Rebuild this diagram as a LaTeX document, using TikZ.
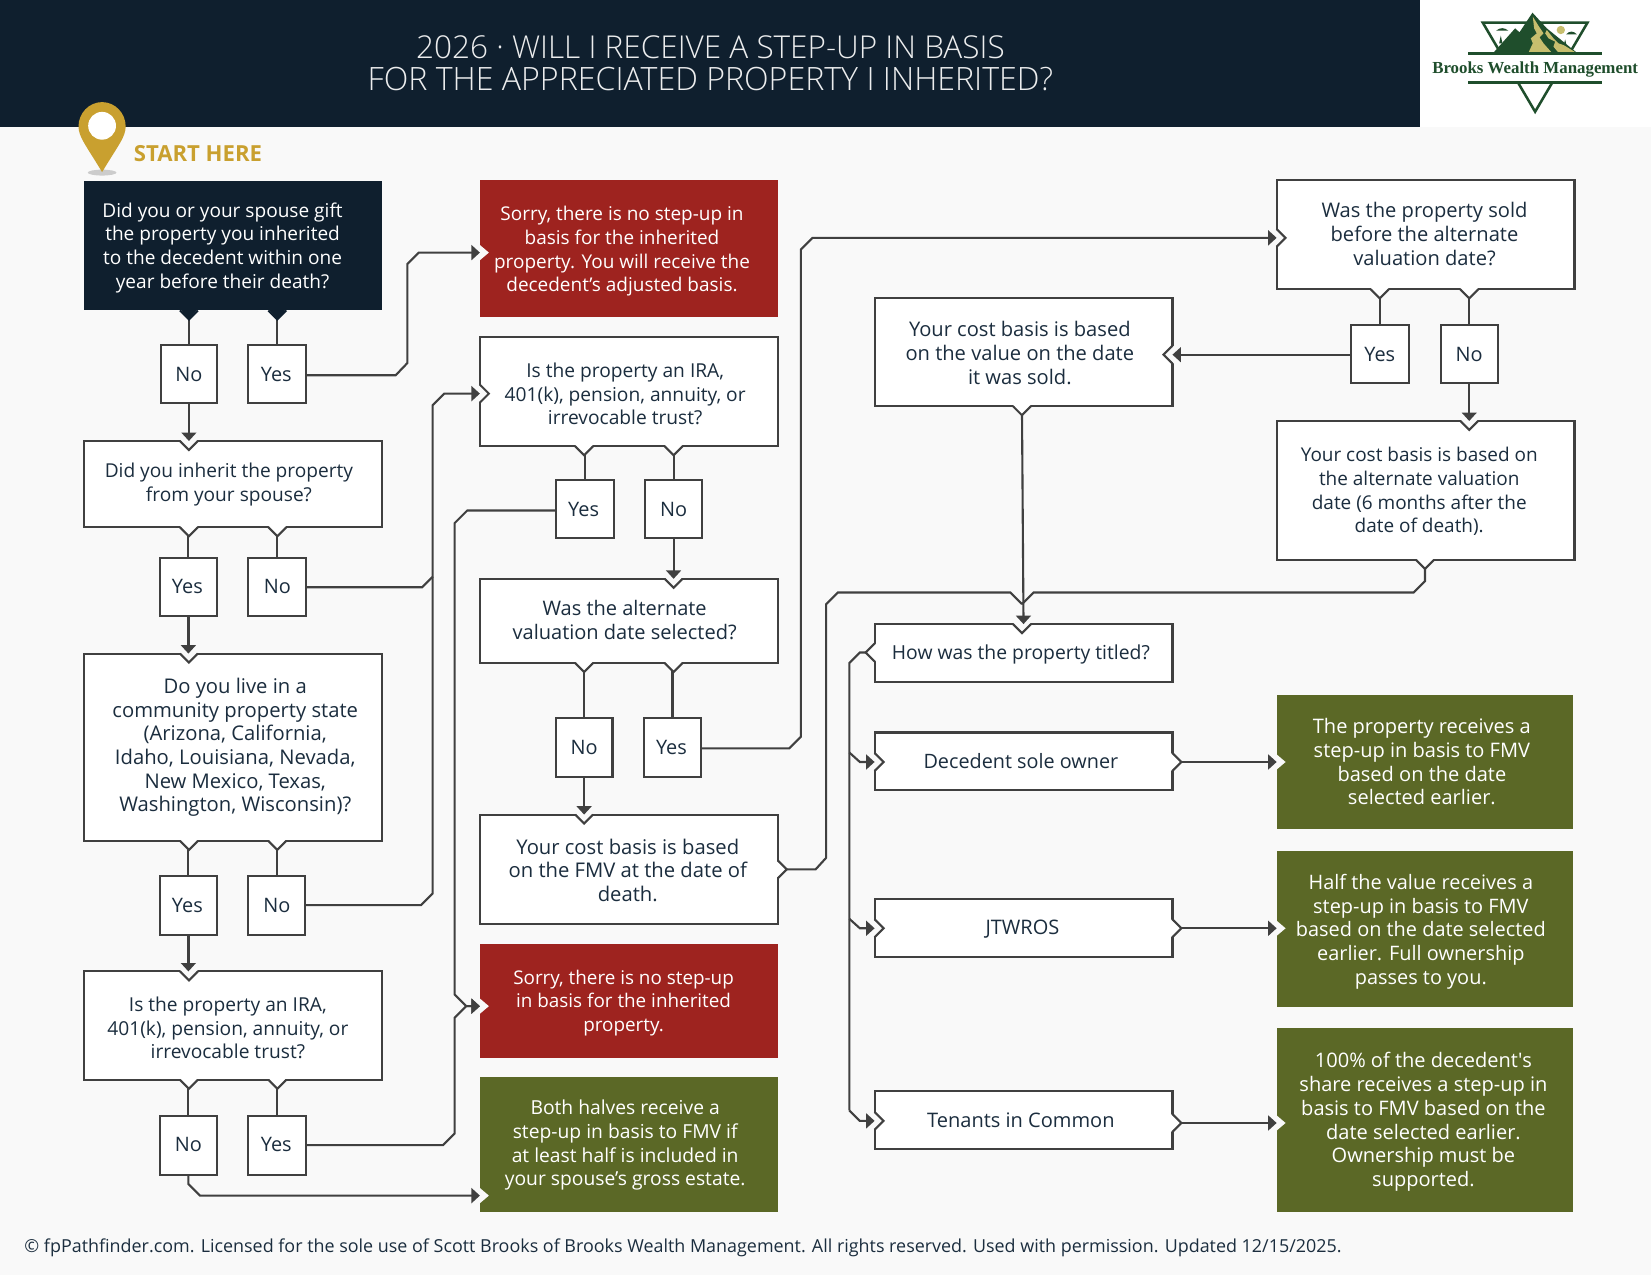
\documentclass[tikz,border=0pt]{standalone}
\usepackage{fontspec}
\setmainfont{Open Sans}
\newfontfamily\titlefont{Open Sans Light}
\newfontfamily\logofont{Liberation Serif}
\usetikzlibrary{arrows.meta,calc}
\definecolor{navy}{HTML}{0F1F2E}
\definecolor{bgc}{HTML}{F9F9F9}
\definecolor{linec}{HTML}{404040}
\definecolor{redc}{HTML}{9E231F}
\definecolor{greenc}{HTML}{5B6826}
\definecolor{gold}{HTML}{C9A02F}
\definecolor{txt}{HTML}{1B2D3E}
\definecolor{logog}{HTML}{1F4E2C}
\definecolor{logoy}{HTML}{C7BE6E}
\tikzset{
 fs/.style={font=\fontsize{#1}{22.5}\selectfont},
 boxbase/.style={rectangle,inner sep=0pt,outer sep=0pt,fs=18.9},
 whitebox/.style={boxbase,draw=linec,line width=2pt,fill=white,text=txt},
 darkbox/.style={boxbase,fill=navy,text=white},
 redbox/.style={boxbase,fill=redc,text=white},
 greenbox/.style={boxbase,fill=greenc,text=white},
 conn/.style={draw=linec,line width=2pt,line join=miter},
 arr/.style={conn,-{Triangle[length=8pt,width=14pt]}},
}
% style, name, x1,y1,x2,y2, dx, dy, text
\newcommand\bx[9][whitebox]{%
 \node[#1,minimum width={(#5-#3)*0.9988pt},minimum height={(#6-#4)*0.9988pt}] (#2) at ({(#3+#5)/2},{(#4+#6)/2})
 {\makebox[0pt][c]{\hspace*{#7pt}\hspace*{#7pt}\raisebox{0pt}[\dimexpr\height+#8pt+#8pt\relax]{\begin{tabular}{@{}c@{}}#9\end{tabular}}}};}
% x,y, dirx,diry, fill, stroke
\newcommand\notch[6]{%
 \fill[#5] ({#1+8.5*#4-1.5*#3},{#2+8.5*#3-1.5*#4}) -- ({#1+8.5*#3},{#2+8.5*#4}) -- ({#1-8.5*#4-1.5*#3},{#2-8.5*#3-1.5*#4}) -- cycle;
 \path[draw=#6,line width=2pt,line join=miter] ({#1+8.5*#4},{#2+8.5*#3}) -- ({#1+8.5*#3},{#2+8.5*#4}) -- ({#1-8.5*#4},{#2-8.5*#3});}
\begin{document}
\begin{tikzpicture}[x=0.9988pt,y=-0.9988pt]
\useasboundingbox (0,0) rectangle (1568.7,1211.45);
\fill[bgc] (0,0) rectangle (1568.7,1211.45);
\fill[navy] (0,0) rectangle (1349,120.5);
\fill[white] (1349,0) rectangle (1568.7,120.5);
\node[text=white!92!navy,align=center,font=\fontsize{30.5}{30.5}\selectfont\titlefont,inner sep=0pt] (title) at (675,60) {{\fontsize{29.9}{30.5}\selectfont 2026 · WILL I RECEIVE A STEP-UP IN BASIS}\\FOR THE APPRECIATED PROPERTY I INHERITED?};
% logo
\begin{scope}[shift={(1311.3,0)},x=0.3164pt,y=-0.3164pt]
 \draw[logog,line width=2.4pt,line join=miter] (359,155) -- (308,68) -- (622,68) -- (571,155);
 \fill[logoy] (542,90) circle (12.5);
 \fill[logog] (348,92) .. controls (360,82) and (372,82) .. (385,92) -- cycle;
 \fill[logog] (558,103) .. controls (568,92) and (580,92) .. (590,103) -- cycle;
 \fill[logog] (362,107) -- (367,130) -- (357,130) -- cycle;
 \fill[logog] (555,118) -- (560,140) -- (550,140) -- cycle;
 \fill[logog] (340,158) -- (405,85) -- (418,97) -- (457,38) -- (500,85) -- (590,158) -- cycle;
 \fill[logoy] (458,50) -- (478,82) -- (490,100) -- (478,112) -- (490,130) -- (515,158) -- (445,158) -- (458,130) -- (452,115) -- (470,100) -- (462,85) -- cycle;
 \fill[logoy] (500,90) -- (520,115) -- (535,130) -- (550,135) -- (588,158) -- (535,158) -- (520,140) -- (525,125) -- (505,115) -- (495,100) -- cycle;
 \draw[logog,line width=2.6pt] (265,160) -- (665,160);
 \draw[logog,line width=2.6pt] (265,247) -- (665,247);
 \draw[logog,line width=2.4pt,line join=miter] (415,250) -- (465,335) -- (515,250);
 \node[text=logog,inner sep=0pt,font=\fontsize{16}{17}\selectfont\logofont\bfseries] (logotext) at (465,209) {Brooks Wealth Management};
\end{scope}
% pin
\fill[black!20] (97,164) ellipse (13.6 and 2.8);
\fill[gold] (74.6,120) .. controls (74.6,107.6) and (84.6,97) .. (97,97) .. controls (109.4,97) and (119.4,107.6) .. (119.4,120) .. controls (119.4,130) and (113,137) .. (97,163.5) .. controls (81,137) and (74.6,130) .. (74.6,120) -- cycle;
\fill[white] (97,119.5) circle (13.2);
\node[text=gold,anchor=west,inner sep=0pt,font=\fontsize{21}{24}\selectfont\bfseries] (start) at (127,146) {START HERE};

% nodes
\bx[darkbox,fs=18.1]{qa}{80}{172}{363}{295}{-10}{2}{Did you or your spouse gift\\the property you inherited\\to the decedent within one\\year before their death?}
\bx{qaN}{153}{328}{206}{383}{0}{2}{No}
\bx{qaY}{236}{328}{291}{383}{-1}{2}{Yes}
\bx[whitebox,fs=18.15]{qb}{80}{419}{363}{501}{-4}{0.6}{Did you inherit the property\\from your spouse?}
\bx{qbY}{152}{530}{206}{585}{-1}{2}{Yes}
\bx{qbN}{236}{530}{291}{585}{0}{2}{No}
\bx[whitebox,fs=19.2]{qc}{80}{621}{363}{799}{2}{0.6}{Do you live in a\\community property state\\(Arizona, California,\\Idaho, Louisiana, Nevada,\\New Mexico, Texas,\\Washington, Wisconsin)?}
\bx{qcY}{152}{832}{206}{888}{-1}{2.5}{Yes}
\bx{qcN}{236}{832}{290}{888}{0}{2.5}{No}
\bx[whitebox,fs=18.2]{qd}{80}{923}{363}{1026}{-5}{4.6}{Is the property an IRA,\\401(k), pension, annuity, or\\irrevocable trust?}
\bx{qdN}{152}{1060}{206}{1116}{0}{2}{No}
\bx{qdY}{236}{1060}{291}{1116}{-1}{2}{Yes}
\bx[redbox,fs=18.0]{ra}{456}{171}{739}{301}{-6.5}{3}{Sorry, there is no step-up in\\basis for the inherited\\property. You will receive the\\decedent’s adjusted basis.}
\bx[whitebox,fs=18.2]{qe}{456}{320}{739}{424}{-3.5}{4.6}{Is the property an IRA,\\401(k), pension, annuity, or\\irrevocable trust?}
\bx{qeY}{528}{456}{583}{511}{-1}{2.5}{Yes}
\bx{qeN}{613}{456}{667}{511}{0}{2.5}{No}
\bx[whitebox,fs=19]{qf}{456}{550}{739}{630}{-4}{2}{Was the alternate\\valuation date selected?}
\bx{qfN}{528}{682}{582}{738}{0}{2}{No}
\bx{qfY}{612}{682}{666}{738}{-1}{2}{Yes}
\bx[whitebox,fs=19.2]{qg}{456}{774}{739}{878}{-1}{3.5}{Your cost basis is based\\on the FMV at the date of\\death.}
\bx[redbox,fs=17.9]{rb}{456}{897}{739}{1005}{-5}{2}{Sorry, there is no step-up\\in basis for the inherited\\property.}
\bx[greenbox,fs=18.3]{ga}{456}{1023}{739}{1152}{-3.5}{1}{Both halves receive a\\step-up in basis to FMV if\\at least half is included in\\your spouse’s gross estate.}
\bx[whitebox,fs=19.1]{sa}{1213}{171}{1496}{275}{-1}{2}{Was the property sold\\before the alternate\\valuation date?}
\bx{saY}{1284}{309}{1339}{364}{-0.5}{2}{Yes}
\bx{saN}{1369}{309}{1423}{364}{0}{2}{No}
\bx[whitebox,fs=19.1]{ta}{831}{283}{1114}{386}{-3.5}{3.5}{Your cost basis is based\\on the value on the date\\it was sold.}
\bx[whitebox,fs=18]{ua}{1213}{400}{1496}{532}{-6}{2}{Your cost basis is based on\\the alternate valuation\\date (6 months after the\\date of death).}
\bx[whitebox,fs=18.35]{va}{831}{593}{1114}{648}{-2.5}{2}{How was the property titled?}
\bx[whitebox,fs=18.8]{wa}{831}{696}{1114}{751}{-2.5}{2}{Decedent sole owner}
\bx[whitebox,fs=19]{xa}{831}{854}{1114}{909}{-1}{2}{JTWROS}
\bx[whitebox,fs=19]{ya}{831}{1037}{1114}{1092}{-2.5}{2}{Tenants in Common}
\bx[greenbox,fs=19]{gb}{1213}{660}{1495}{788}{-3}{2.5}{The property receives a\\step-up in basis to FMV\\based on the date\\selected earlier.}
\bx[greenbox,fs=18.9]{gc}{1213}{809}{1495}{957}{-4}{2.5}{Half the value receives a\\step-up in basis to FMV\\based on the date selected\\earlier. Full ownership\\passes to you.}
\bx[greenbox,fs=19]{gd}{1213}{977}{1495}{1152}{-1.5}{2}{100\% of the decedent\textquotesingle s\\share receives a step-up in\\basis to FMV based on the\\date selected earlier.\\Ownership must be\\supported.}

% entry notches
\notch{456}{240}{1}{0}{bgc}{none}
\notch{456}{956}{1}{0}{bgc}{none}
\notch{456}{1136}{1}{0}{bgc}{none}
\notch{1213}{724}{1}{0}{bgc}{none}
\notch{1213}{882}{1}{0}{bgc}{none}
\notch{1213}{1067}{1}{0}{bgc}{none}
\notch{179.5}{419}{0}{1}{bgc}{linec}
\notch{179.5}{621}{0}{1}{bgc}{linec}
\notch{179.5}{923}{0}{1}{bgc}{linec}
\notch{456}{374}{1}{0}{bgc}{linec}
\notch{640}{550}{0}{1}{bgc}{linec}
\notch{555}{774}{0}{1}{bgc}{linec}
\notch{1396}{400}{0}{1}{bgc}{linec}
\notch{971}{593}{0}{1}{bgc}{linec}
\notch{1213}{226}{1}{0}{bgc}{linec}
\notch{1114}{337}{-1}{0}{bgc}{linec}
\notch{831}{724}{1}{0}{bgc}{linec}
\notch{831}{882}{1}{0}{bgc}{linec}
\notch{831}{1065}{1}{0}{bgc}{linec}

% connectors
\draw[conn] (qa.south -| qaN.north) -- (qaN.north);
\draw[conn] (qa.south -| qaY.north) -- (qaY.north);
\draw[arr] (qaN.south) -- (qaN.south |- qb.north);
\draw[arr] (qaY.east |- 0,356.5) -- (376,356.5) -- (387,345) -- (387,251) -- (398,240) -- (ra.west |- 0,240);
\draw[conn] (qb.south -| qbY.north) -- (qbY.north);
\draw[conn] (qb.south -| qbN.north) -- (qbN.north);
\draw[arr,line width=2.8pt] (qbY.south) -- (qbY.south |- qc.north);
\draw[arr] (qbN.east |- 0,558) -- (401,558) -- (411,548) -- (411,385) -- (422,374) -- (qe.west |- 0,374);
\draw[conn] (qc.south -| qcY.north) -- (qcY.north);
\draw[conn] (qc.south -| qcN.north) -- (qcN.north);
\draw[arr,line width=2.8pt] (qcY.south) -- (qcY.south |- qd.north);
\draw[conn] (qcN.east) -- (400,860) -- (411,849) -- (411,548);
\draw[conn] (qd.south -| qdN.north) -- (qdN.north);
\draw[conn] (qd.south -| qdY.north) -- (qdY.north);
\draw[arr] (qdN.south) -- (179,1125) -- (190,1136) -- (ga.west |- 0,1136);
\draw[arr] (qdY.east) -- (421,1088) -- (432,1077) -- (432,967) -- (443,956) -- (rb.west |- 0,956);
\draw[arr] (qeY.west |- 0,485) -- (444,485) -- (432,497) -- (432,945) -- (443,956) -- (rb.west |- 0,956);
\draw[conn] (qe.south -| qeY.north) -- (qeY.north);
\draw[conn] (qe.south -| qeN.north) -- (qeN.north);
\draw[arr] (qeN.south) -- (qeN.south |- qf.north);
\draw[conn] (qf.south -| qfN.north) -- (qfN.north);
\draw[conn] (qf.south -| qfY.north) -- (qfY.north);
\draw[arr] (qfN.south) -- (qfN.south |- qg.north);
\draw[arr] (qfY.east |- 0,711) -- (750,711) -- (761,700) -- (761,237) -- (772,226) -- (sa.west |- 0,226);
\draw[conn] (qg.east |- 0,826) -- (775,826) -- (785,815) -- (785,574) -- (796,563) -- (960,563) -- (971,574);
\draw[conn] (ua.south -| 1354,0) -- (1354,552) -- (1343,563) -- (982,563) -- (971,574);
\draw[conn] (sa.south -| saY.north) -- (saY.north);
\draw[conn] (sa.south -| saN.north) -- (saN.north);
\draw[arr] (saY.west |- 0,337) -- (ta.east |- 0,337);
\draw[arr] (saN.south) -- (saN.south |- ua.north);
\draw[arr] (ta.south -| 971,0) -- (971,593 -| va.north);
\draw[conn] (va.west |- 0,620) -- (817,620) -- (807,630) -- (807,1055);
\draw[arr] (807,715) -- (817,724) -- (wa.west |- 0,724);
\draw[arr] (807,873) -- (817,882) -- (xa.west |- 0,882);
\draw[arr] (807,1055) -- (817,1065) -- (ya.west |- 0,1065);
\draw[arr] (wa.east |- 0,724) -- (gb.west |- 0,724);
\draw[arr] (xa.east |- 0,882) -- (gc.west |- 0,882);
\draw[arr] (ya.east |- 0,1067) -- (gd.west |- 0,1067);

% exit bumps
\notch{179.5}{295}{0}{1}{navy}{navy}
\notch{263.5}{295}{0}{1}{navy}{navy}
\notch{179.5}{501}{0}{1}{white}{linec}
\notch{263.5}{501}{0}{1}{white}{linec}
\notch{179.5}{799}{0}{1}{white}{linec}
\notch{263.5}{799}{0}{1}{white}{linec}
\notch{179.5}{1026}{0}{1}{white}{linec}
\notch{263.5}{1026}{0}{1}{white}{linec}
\notch{555}{424}{0}{1}{white}{linec}
\notch{640}{424}{0}{1}{white}{linec}
\notch{555}{630}{0}{1}{white}{linec}
\notch{640}{630}{0}{1}{white}{linec}
\notch{1311}{275}{0}{1}{white}{linec}
\notch{1396}{275}{0}{1}{white}{linec}
\notch{971}{386}{0}{1}{white}{linec}
\notch{1354}{532}{0}{1}{white}{linec}
\notch{739}{826}{1}{0}{white}{linec}
\notch{831}{620}{-1}{0}{white}{linec}
\notch{1114}{724}{1}{0}{white}{linec}
\notch{1114}{882}{1}{0}{white}{linec}
\notch{1114}{1067}{1}{0}{white}{linec}

\node[anchor=west,inner sep=0pt,text=txt,font=\fontsize{17}{20}\selectfont] (foot) at (23,1186) {© fpPathfinder.com. Licensed for the sole use of Scott Brooks of Brooks Wealth Management. All rights reserved. Used with permission. Updated 12/15/2025.};
\end{tikzpicture}
\end{document}
